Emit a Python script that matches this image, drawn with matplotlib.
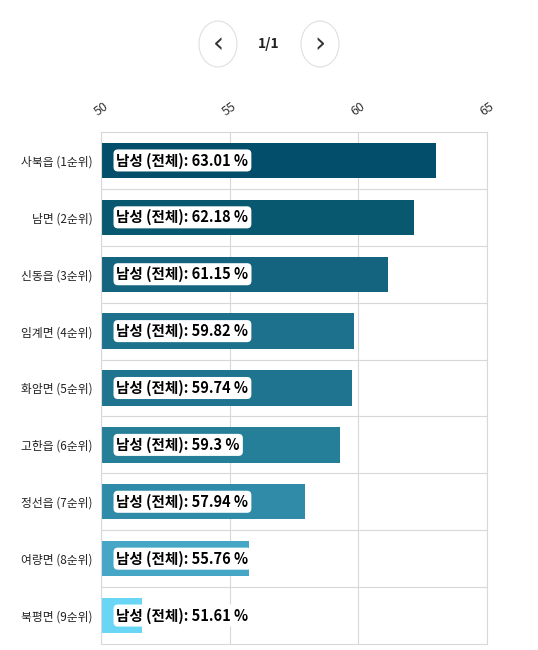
import matplotlib
matplotlib.use("Agg")
import matplotlib.pyplot as plt
from matplotlib.patches import Circle

plt.rcParams['font.family'] = ['Noto Sans CJK KR', 'DejaVu Sans']

categories = ["사북읍 (1순위)", "남면 (2순위)", "신동읍 (3순위)", "임계면 (4순위)", "화암면 (5순위)",
              "고한읍 (6순위)", "정선읍 (7순위)", "여량면 (8순위)", "북평면 (9순위)"]
values = [63.01, 62.18, 61.15, 59.82, 59.74, 59.3, 57.94, 55.76, 51.61]
colors = ["#034e6b", "#08596f", "#14647f", "#1d718d", "#1f7490", "#267f99", "#308ba9", "#45a6c6", "#6ad6f5"]
xticks = [50, 55, 60, 65]

W, H = 538, 650
fig = plt.figure(figsize=(W/100, H/100), dpi=100)
ax = fig.add_axes([101/W, 1-644/H, (487-101)/W, (644-132)/H])
y = list(range(len(categories)))
ax.barh(y, [v-50 for v in values], left=50, height=0.62, color=colors, zorder=2)
ax.set_xlim(50, 65)
ax.set_ylim(len(categories)-0.5, -0.5)
ax.set_yticks(y)
ax.set_yticklabels(categories, fontsize=8.5, color="#222")
ax.set_xticks(xticks)
ax.xaxis.tick_top()
ax.set_xticklabels([str(t) for t in xticks], rotation=35, fontsize=9, color="#333")
ax.tick_params(which='both', length=0, pad=6)
ax.tick_params(axis='x', pad=10)
ax.set_yticks([i+0.5 for i in y[:-1]], minor=True)
ax.grid(True, axis='x', color="#d8d8d8", lw=0.8, zorder=0)
ax.grid(True, axis='y', which='minor', color="#d8d8d8", lw=0.8, zorder=0)
for s in ax.spines.values():
    s.set_color("#d8d8d8"); s.set_linewidth(0.8)
for i, v in enumerate(values):
    ax.text(50.6, i, f"남성 (전체): {v} %", va='center', ha='left', fontsize=10.5, fontweight='bold',
            color='black', zorder=3,
            bbox=dict(boxstyle="round,pad=0.2,rounding_size=0.3", fc='white', ec='none'))

for cx in (218, 320):
    fig.patches.append(Circle((cx/W, 1-44/H), 19/W, transform=fig.transFigure, fc='white',
                              ec='#e0e0e0', lw=0.8))
fig.text(218/W, 1-44/H, "‹", ha='center', va='center', fontsize=20, color='#333', family='DejaVu Sans')
fig.text(320/W, 1-44/H, "›", ha='center', va='center', fontsize=20, color='#333', family='DejaVu Sans')
fig.text(269/W, 1-44/H, "1/1", ha='center', va='center', fontsize=10, fontweight='bold', color='#222')
fig.savefig("out.png", dpi=100)
